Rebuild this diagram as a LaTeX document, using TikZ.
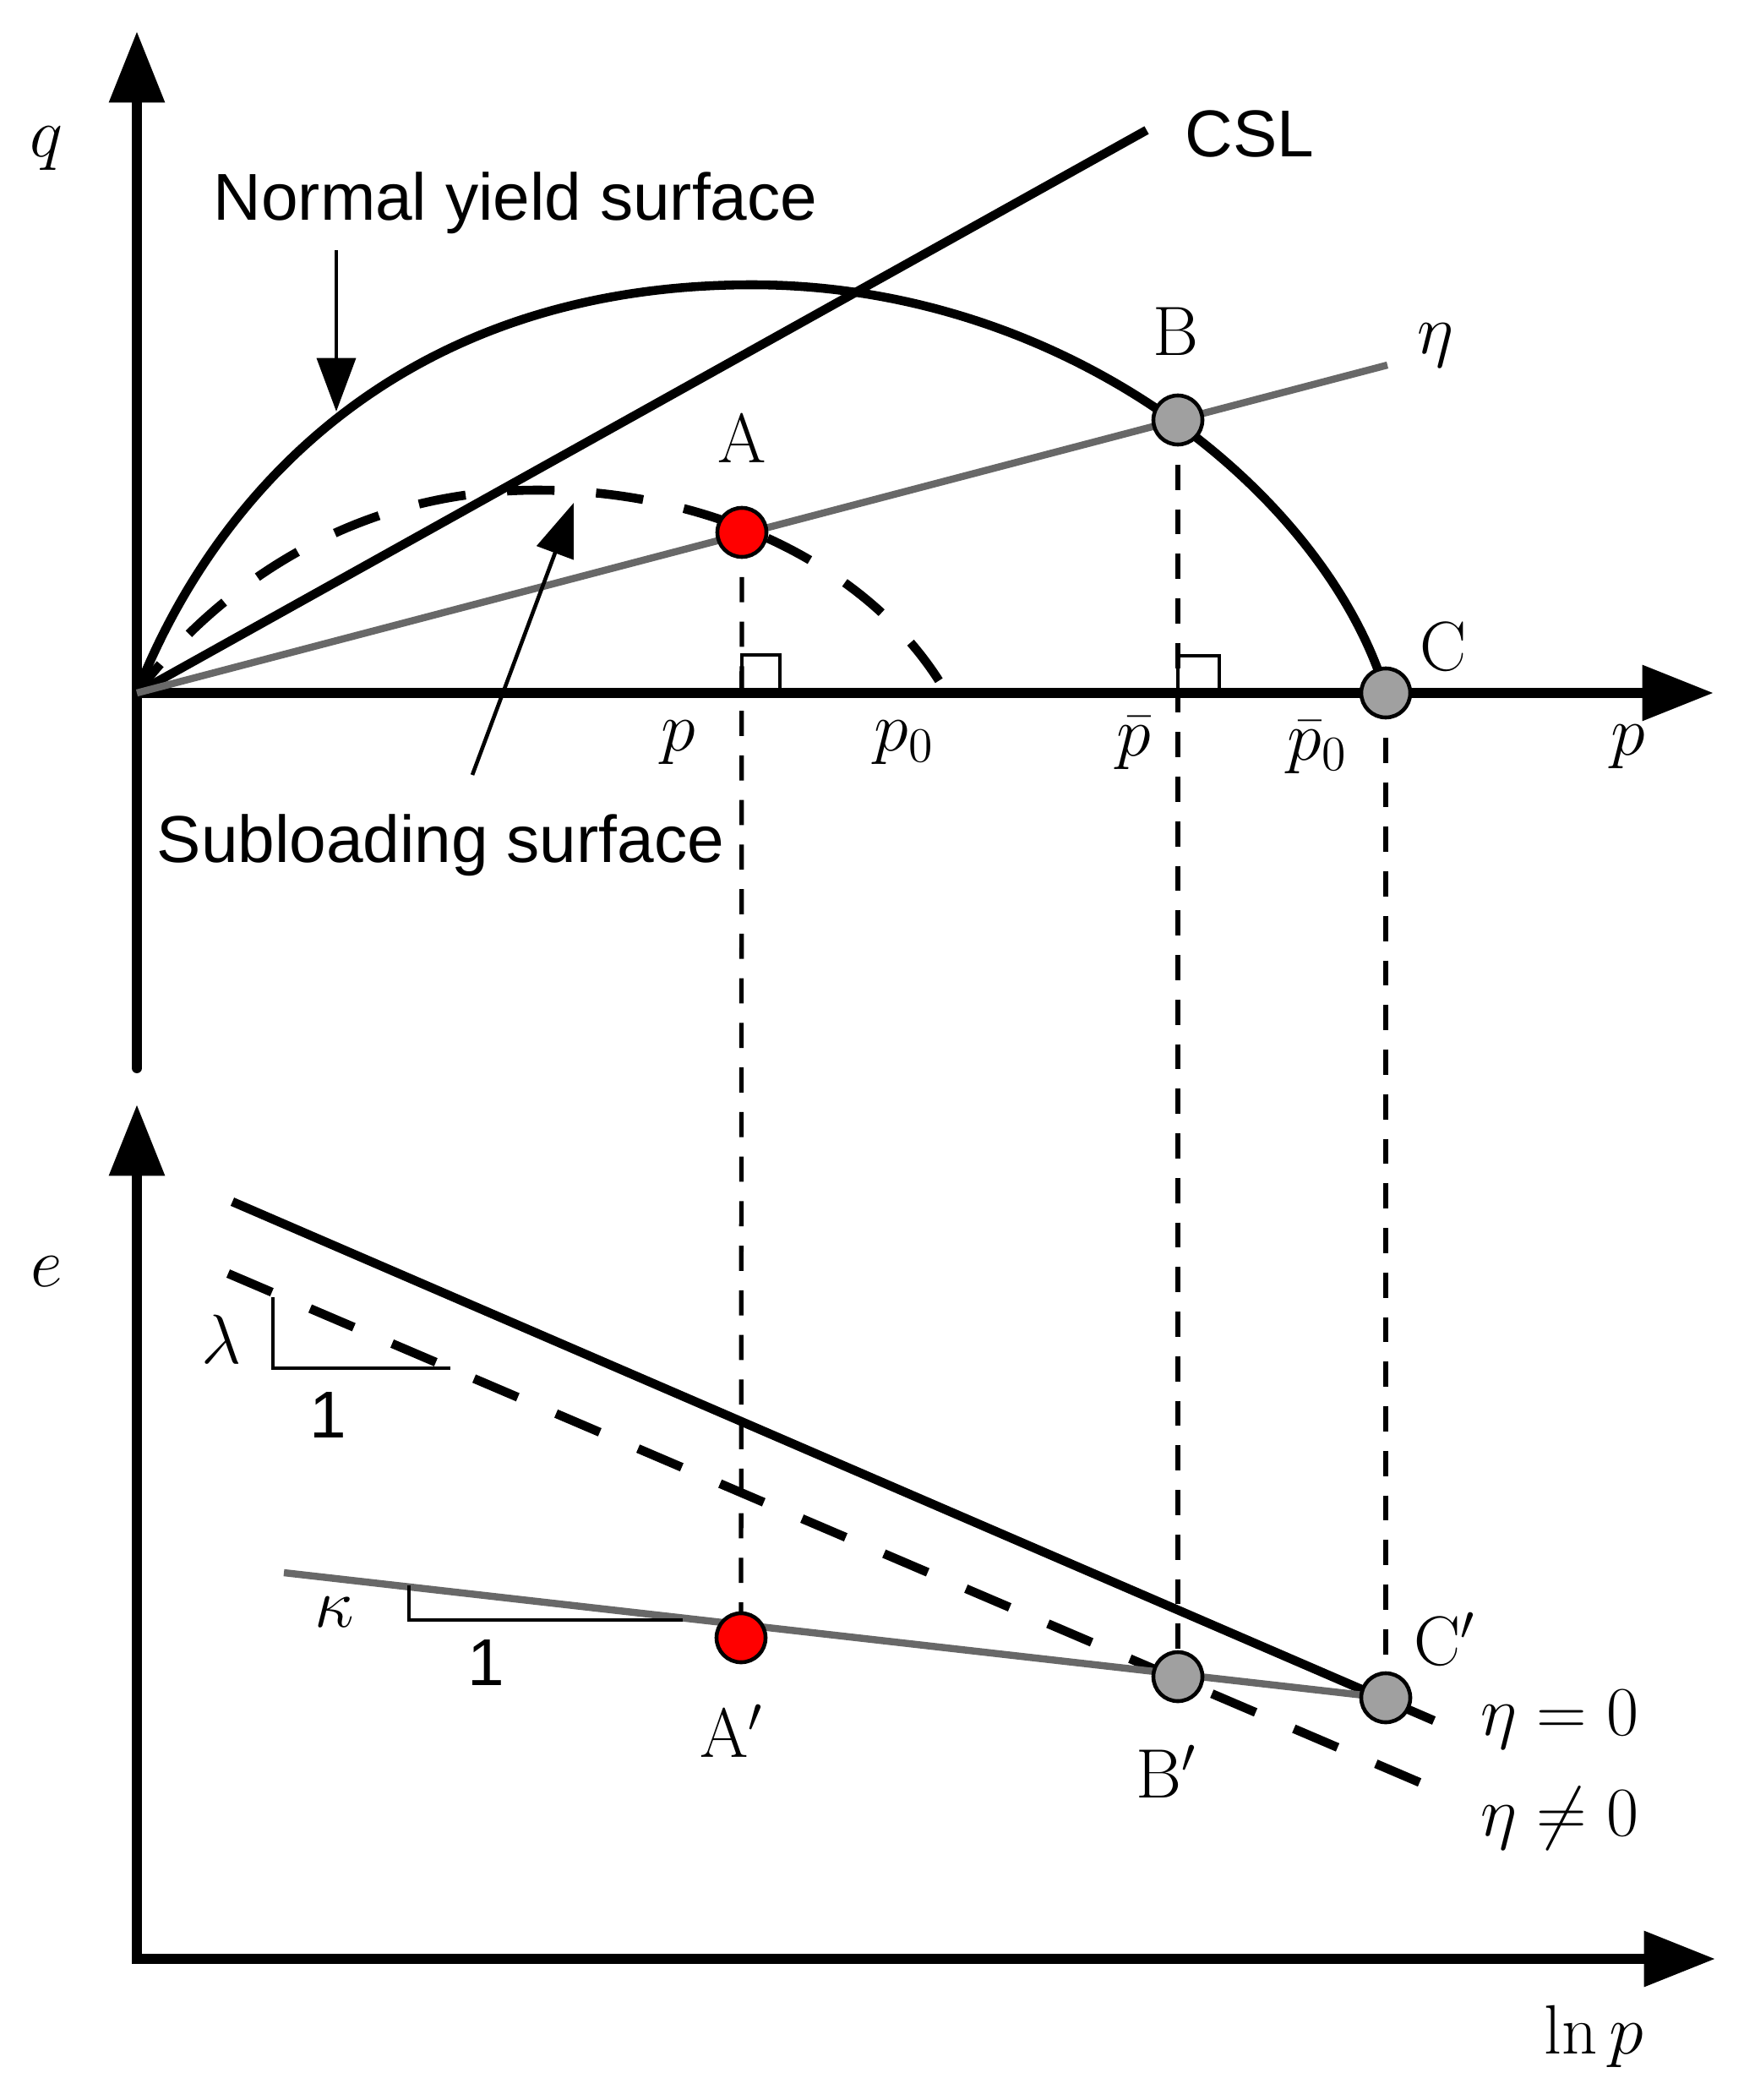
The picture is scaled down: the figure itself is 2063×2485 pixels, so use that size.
\RequirePackage{fix-cm}
\documentclass[tikz,border=0pt]{standalone}
\usepackage{fontspec}
\usetikzlibrary{arrows.meta}
\newfontfamily\arialfont{Liberation Sans}
\definecolor{etagray}{RGB}{104,104,104}
\definecolor{ptgray}{RGB}{160,160,160}
\begin{document}
\begin{tikzpicture}[x=0.01cm,y=-0.01cm,
  axis/.style={line width=3.4pt,-{Triangle[length=24pt,width=18pt]}},
  curve/.style={line width=3pt},
  dashcurve/.style={line width=3pt,dash pattern=on 16pt off 14pt},
  etaline/.style={line width=2.4pt,draw=etagray},
  guide/.style={line width=1.5pt,dash pattern=on 8.5pt off 6.5pt},
  thinline/.style={line width=1.2pt},
  pointer/.style={line width=1.3pt,-{Triangle[length=18pt,width=13pt]}},
  statept/.style={circle,draw,line width=1.3pt,minimum size=0.58cm,inner sep=0pt},
  mlabel/.style={font=\fontsize{23.5}{28}\selectfont,inner sep=0pt},
  slabel/.style={font=\arialfont\fontsize{22.3}{26}\selectfont,inner sep=0pt}]
\useasboundingbox (0,0) rectangle (2063,2485);
% ---------- coordinates ----------
\coordinate (O) at (162,820);
\coordinate (qtop) at (162,37);
\coordinate (qbot) at (162,1264);
\coordinate (ptip) at (2028,820);
\coordinate (cslend) at (1357,154);
\coordinate (etaend) at (1642,432);
\coordinate (pk) at (890,337);
\coordinate (pC) at (1640,820);
\coordinate (spk) at (636,580);
\coordinate (sp0) at (1120,820);
\coordinate (pA) at (878,630);
\coordinate (pB) at (1394,497);
\coordinate (pAl) at (877,1938);
\coordinate (pBl) at (1394,1984);
\coordinate (pCl) at (1640,2009);
\coordinate (O2) at (162,2318);
\coordinate (etip) at (162,1307);
\coordinate (lntip) at (2030,2318);
\coordinate (ncla) at (275,1422);
\coordinate (nclb) at (1697,2036);
\coordinate (dla) at (270,1507);
\coordinate (dlb) at (1682,2110);
\coordinate (ka) at (336,1861);
\coordinate (nysT) at (398,296);
\coordinate (nysH) at (398,487);
\coordinate (slsT) at (559,917);
\coordinate (slsH) at (679,595);
% ---------- upper axes ----------
\draw[axis,line cap=round] (qbot) -- (qtop);
\draw[axis] (157,820) -- (ptip);
% ---------- guides ----------
\draw[guide] (pA) -- (pAl);
\draw[guide] (pB) -- (pBl);
\draw[guide] (pC) -- (pCl);
% right-angle marks
\draw[thinline] (878,820) |- (923,775) -- (923,820);
\draw[thinline] (1394,820) |- (1443,776) -- (1443,820);
% ---------- curves ----------
\draw[curve] (O) -- (cslend);
\draw[curve] (O) .. controls (252,590) and (470,337) .. (pk)
              .. controls (1266,337) and (1570,587) .. (pC);
\draw[dashcurve,dash phase=3.5pt] (O) .. controls (222,740) and (376,580) .. (spk)
              .. controls (856,580) and (1040,680) .. (sp0);
\draw[etaline] (O) -- (etaend);
% pointers
\draw[pointer] (nysT) -- (nysH);
\draw[pointer] (slsT) -- (slsH);
% ---------- lower axes ----------
\draw[line width=3.4pt,line join=miter,
  {Triangle[length=24pt,width=18pt]}-{Triangle[length=24pt,width=18pt]}]
  (etip) -- (O2) -- (lntip);
\draw[curve] (ncla) -- (nclb);
\draw[dashcurve] (dla) -- (dlb);
\draw[etaline] (ka) -- (pCl);
% slope triangles
\draw[thinline] (323,1535) -- (323,1619) -- (533,1619);
\draw[thinline] (484,1876) -- (484,1917) -- (808,1917);
% ---------- state points ----------
\node[statept,fill=red] (A) at (pA) {};
\node[statept,fill=ptgray] (B) at (pB) {};
\node[statept,fill=ptgray] (C) at (pC) {};
\node[statept,fill=red] (A') at (pAl) {};
\node[statept,fill=ptgray] (B') at (pBl) {};
\node[statept,fill=ptgray] (C') at (pCl) {};
% ---------- labels ----------
\node[mlabel] (lq) at (55,176) {$q$};
\node[mlabel] (le) at (55,1505) {$e$};
\node[mlabel] (lp) at (1927,884) {$p$};
\node[mlabel] (llnp) at (1886,2410) {$\ln p$};
\node[mlabel] (lpA) at (803,879) {$p$};
\node[mlabel] (lp0) at (1070,879) {$p_0$};
\node[mlabel] (lpb) at (1342,879) {$\bar{p}$};
\node[mlabel] (lpb0) at (1559,884) {$\bar{p}_0$};
\node[mlabel] (lA) at (878,518) {A};
\node[mlabel] (lB) at (1392,392) {B};
\node[mlabel] (lC) at (1708,765) {C};
\node[mlabel] (lAl) at (866,2048) {A$'$};
\node[mlabel] (lBl) at (1380,2096) {B$'$};
\node[mlabel] (lCl) at (1710,1940) {C$'$};
\node[mlabel] (leta) at (1699,409) {$\eta$};
\node[mlabel] (leta0) at (1846,2035) {$\eta = 0$};
\node[mlabel] (letan) at (1846,2152) {$\eta \neq 0$};
\node[mlabel] (llam) at (262,1585) {$\lambda$};
\node[mlabel] (lkap) at (396,1908) {$\kappa$};
\node[slabel] (lone1) at (388,1675) {1};
\node[slabel] (lone2) at (575,1968) {1};
\node[slabel] (lcsl) at (1479,159) {CSL};
\node[slabel,anchor=base west] (lnys) at (252,261) {Normal yield surface};
\node[slabel,anchor=base west] (lsls) at (185,1020) {Subloading surface};
\end{tikzpicture}
\end{document}
